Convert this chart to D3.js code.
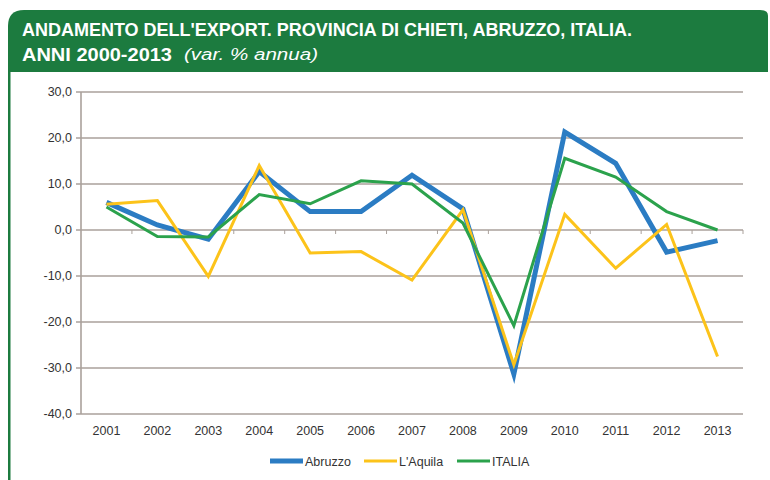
<!DOCTYPE html>
<html lang="it">
<head>
<meta charset="utf-8">
<title>Andamento dell'export</title>
<style>
  body { margin: 0; background: #fff; }
  svg text { font-family: "Liberation Sans", Arial, sans-serif; }
</style>
</head>
<body>
<script src="https://d3js.org/d3.v7.min.js"></script>
<script>
// Dati
const years = ["2001","2002","2003","2004","2005","2006","2007","2008","2009","2010","2011","2012","2013"];
const abruzzo = [6.0, 1.1, -2.0, 12.7, 4.0, 4.0, 11.9, 4.6, -31.3, 21.3, 14.5, -4.8, -2.3];
const aquila = [5.6, 6.4, -10.1, 14.0, -5.0, -4.7, -10.9, 4.4, -29.3, 3.4, -8.3, 1.2, -27.5];
const italia = [5.0, -1.4, -1.5, 7.7, 5.7, 10.7, 10.0, 1.5, -20.8, 15.6, 11.5, 4.0, 0.0];
const yTicks = [30, 20, 10, 0, -10, -20, -30, -40];

const series = [
    { name: "Abruzzo", values: abruzzo, color: "#2b7cc3", width: 5 },
    { name: "L'Aquila", values: aquila, color: "#fcc31a", width: 3 },
    { name: "ITALIA", values: italia, color: "#2ba24c", width: 3 }
];

const width = 770, height = 480;
const svg = d3.select("body").append("svg")
    .attr("width", width)
    .attr("height", height);

// Cornice verde e intestazione
const green = "#1c7b3f";
svg.append("rect").attr("x", 8).attr("y", 60).attr("width", 2.5).attr("height", 420).attr("fill", green);
svg.append("path")
    .attr("d", "M8,72 L8,26 Q8,10 24,10 L760,10 Q768,10 768,16 L768,72 Z")
    .attr("fill", green);

const title = svg.append("g").attr("fill", "#fff");
title.append("text").attr("x", 22).attr("y", 36)
    .attr("font-size", 19).attr("font-weight", "bold")
    .attr("textLength", 610).attr("lengthAdjust", "spacingAndGlyphs")
    .text("ANDAMENTO DELL'EXPORT. PROVINCIA DI CHIETI, ABRUZZO, ITALIA.");
title.append("text").attr("x", 22).attr("y", 61)
    .attr("font-size", 19).attr("font-weight", "bold")
    .attr("textLength", 150).attr("lengthAdjust", "spacingAndGlyphs")
    .text("ANNI 2000-2013");
title.append("text").attr("x", 184).attr("y", 60)
    .attr("font-size", 16).attr("font-style", "italic")
    .attr("textLength", 134).attr("lengthAdjust", "spacingAndGlyphs")
    .text("(var. % annua)");

// Scale
const x = d3.scaleBand().domain(years).range([81, 743]);
const y = d3.scaleLinear().domain([-40, 30]).range([414, 92]);
const gridColor = "#aaa19b";

// Griglia orizzontale
svg.append("g")
    .selectAll("line")
    .data(yTicks)
    .join("line")
    .attr("x1", 76).attr("x2", 743)
    .attr("y1", d => y(d)).attr("y2", d => y(d))
    .attr("stroke", gridColor).attr("stroke-width", 1.6);

// Asse verticale
svg.append("line")
    .attr("x1", 81).attr("x2", 81)
    .attr("y1", y(30)).attr("y2", y(-40))
    .attr("stroke", gridColor).attr("stroke-width", 1.6);

// Etichette asse y
svg.append("g")
    .selectAll("text")
    .data(yTicks)
    .join("text")
    .attr("x", 72).attr("y", d => y(d) + 4)
    .attr("text-anchor", "end")
    .attr("font-size", 12.5).attr("fill", "#333")
    .text(d => d.toFixed(1).replace(".", ","));

// Tacche sull'asse dello zero
const bounds = years.slice(1).map(d => x(d));
bounds.push(x.range()[1]);
svg.append("g")
    .selectAll("line")
    .data(bounds)
    .join("line")
    .attr("x1", d => d).attr("x2", d => d)
    .attr("y1", y(0)).attr("y2", y(0) + 4)
    .attr("stroke", gridColor).attr("stroke-width", 1);

// Etichette anni
svg.append("g")
    .selectAll("text")
    .data(years)
    .join("text")
    .attr("x", d => x(d) + x.bandwidth() / 2)
    .attr("y", 435)
    .attr("text-anchor", "middle")
    .attr("font-size", 12.5).attr("fill", "#333")
    .text(d => d);

// Linee
const line = d3.line()
    .x((d, i) => x(years[i]) + x.bandwidth() / 2)
    .y(d => y(d));

svg.append("g")
    .selectAll("path")
    .data(series)
    .join("path")
    .attr("d", d => line(d.values))
    .attr("fill", "none")
    .attr("stroke", d => d.color)
    .attr("stroke-width", d => d.width)
    .attr("stroke-linejoin", "miter");

// Legenda
const legendX = [270, 364, 457];
const legend = svg.append("g")
    .selectAll("g")
    .data(series)
    .join("g")
    .attr("transform", (d, i) => `translate(${legendX[i]},461)`);
legend.append("line")
    .attr("x1", 0).attr("x2", 33)
    .attr("stroke", d => d.color)
    .attr("stroke-width", d => d.width);
legend.append("text")
    .attr("x", 35).attr("y", 4.5)
    .attr("font-size", 12.5).attr("fill", "#333")
    .text(d => d.name);
</script>
</body>
</html>
